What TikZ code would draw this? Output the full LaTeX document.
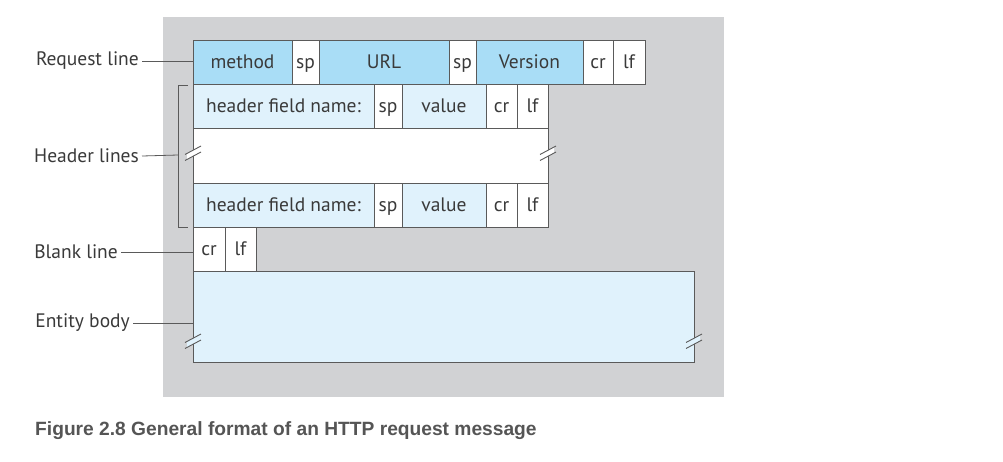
\documentclass[tikz,border=0pt]{standalone}
\usepackage{fontspec}
\setmainfont{PT Sans}
\newfontfamily\capfont{Liberation Sans}
\definecolor{bggray}{HTML}{D1D2D4}
\definecolor{reqblue}{HTML}{A9DDF6}
\definecolor{hdrblue}{HTML}{E0F2FC}
\definecolor{edge}{HTML}{5A5A5A}
\definecolor{txt}{HTML}{3A3A3A}
\definecolor{capgray}{HTML}{555555}
\begin{document}
\begin{tikzpicture}[x=1pt,y=-1pt,
  cell/.style={draw=edge, line width=1pt, anchor=north west, inner sep=0pt, outer sep=0pt,
    minimum height=44pt, text=txt, text height=17pt, text depth=4pt, font=\fontsize{19.5}{22}\selectfont},
  req/.style={cell, fill=reqblue},
  hdr/.style={cell, fill=hdrblue},
  wht/.style={cell, fill=white},
  lbl/.style={anchor=east, inner sep=0pt, text=txt, font=\fontsize{19.5}{22}\selectfont},
  conn/.style={draw=edge, line width=0.8pt},
  brk/.style={draw=edge, line width=0.9pt}
]
\useasboundingbox (0,0) rectangle (1003,461);
\fill[white] (0,0) rectangle (1003,461);
\fill[bggray] (163,17) rectangle (724,397);

% request line
\node[req, minimum width=99pt] (method) at (193,40) {method};
\node[wht, minimum width=27pt] (sp1) at (292,40) {sp};
\node[req, minimum width=130pt] (url) at (319,40) {URL};
\node[wht, minimum width=27pt] (sp2) at (449,40) {sp};
\node[req, minimum width=107pt] (version) at (476,40) {Version};
\node[wht, minimum width=30pt] (cr1) at (583,40) {cr};
\node[wht, minimum width=32pt] (lf1) at (613,40) {lf};

% header line 1
\node[hdr, minimum width=181pt] (hname1) at (193,84) {header field name:};
\node[wht, minimum width=28pt] (hsp1) at (374,84) {sp};
\node[hdr, minimum width=84pt] (hval1) at (402,84) {value};
\node[wht, minimum width=31pt] (hcr1) at (486,84) {cr};
\node[wht, minimum width=31pt] (hlf1) at (517,84) {lf};

% blank middle
\node[wht, minimum width=355pt, minimum height=55pt] (mid) at (193,128) {};

% header line 2
\node[hdr, minimum width=181pt] (hname2) at (193,183) {header field name:};
\node[wht, minimum width=28pt] (hsp2) at (374,183) {sp};
\node[hdr, minimum width=84pt] (hval2) at (402,183) {value};
\node[wht, minimum width=31pt] (hcr2) at (486,183) {cr};
\node[wht, minimum width=31pt] (hlf2) at (517,183) {lf};

% blank line
\node[wht, minimum width=32pt] (bcr) at (193,227) {cr};
\node[wht, minimum width=31pt] (blf) at (225,227) {lf};

% entity body
\node[hdr, minimum width=501pt, minimum height=91pt] (body) at (193,271) {};

% break marks
\foreach \bx/\by/\fc in {193/152/white, 548/152/white, 193/340/hdrblue, 694/340/hdrblue}{
  \fill[\fc] (\bx-6,\by+1.5) -- (\bx+6,\by-5) -- (\bx+6,\by+1) -- (\bx-6,\by+7.5) -- cycle;
  \draw[brk] (\bx-8,\by+2.5) -- (\bx+8,\by-6);
  \draw[brk] (\bx-8,\by+8.5) -- (\bx+8,\by);
}

% header bracket
\coordinate (bt) at (188,85);
\coordinate (bb) at (188,227);
\draw[conn] (bt) -- (178,85) -- (178,227) -- (bb);
\coordinate (bm) at (178,155);

% labels
\node[lbl] (lreq) at (139,61) {Request line};
\draw[conn] ([xshift=3pt]lreq.east) -- (lreq.east -| method.west);
\node[lbl] (lhdr) at (139,156) {Header lines};
\draw[conn] ([xshift=3pt]lhdr.east) -- (bm);
\node[lbl] (lblank) at (118,252) {Blank line};
\draw[conn] ([xshift=3pt]lblank.east) -- (lblank.east -| bcr.west);
\node[lbl] (lbody) at (130,323) {Entity body};
\draw[conn] ([xshift=3pt]lbody.east) -- (lbody.east -| body.west);

% caption
\node[anchor=west, inner sep=0pt, text=capgray, font=\capfont\bfseries\fontsize{19.2}{22}\selectfont] (cap) at (35,431) {Figure 2.8 General format of an HTTP request message};
\end{tikzpicture}
\end{document}
